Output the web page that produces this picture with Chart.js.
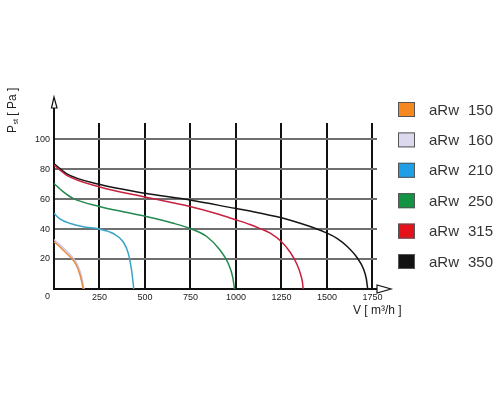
<!DOCTYPE html>
<html>
<head>
<meta charset="utf-8">
<script src="https://cdn.jsdelivr.net/npm/chart.js@4"></script>
<style>
html,body{margin:0;padding:0;background:#fff;}
#wrap{width:500px;height:400px;}
</style>
</head>
<body>
<div id="wrap"><canvas id="c" width="500" height="400"></canvas></div>
<script>
// ---- data ----
const seriesLabels = ['aRw 150', 'aRw 160', 'aRw 210', 'aRw 250', 'aRw 315', 'aRw 350'];

const flow150 = [0, 25, 50, 75, 100, 120, 140, 152, 158, 160];
const pres150 = [31.5, 29, 26, 23, 20, 16.5, 10.5, 5, 1.5, 0];

const flow160 = [0, 50, 100, 130, 150, 160, 165];
const pres160 = [33, 27.5, 21.5, 16, 9, 3, 0];

const flow210 = [0, 30, 86, 160, 248, 325, 380, 408, 426, 434, 438];
const pres210 = [50.4, 47, 43.8, 41.5, 40, 37, 31.5, 23.8, 12.7, 5, 0];

const flow250 = [0, 50, 105, 248, 380, 518, 650, 747, 839, 912, 958, 982, 992];
const pres250 = [70.4, 64.9, 60.4, 55, 51.5, 48, 44, 40.4, 35, 26, 17, 8, 0];

const flow315 = [0, 68, 248, 500, 747, 900, 995, 1077, 1133, 1188, 1250, 1298, 1335, 1357, 1366, 1369];
const pres315 = [82.7, 76, 68.2, 61.3, 55, 50, 46.3, 43, 40.3, 37.2, 31.5, 24.5, 16.5, 9, 4, 0];

const flow350 = [0, 68, 248, 500, 747, 995, 1077, 1250, 1353, 1445, 1500, 1555, 1610, 1665, 1702, 1716, 1724];
const pres350 = [83.6, 77, 69.8, 63.9, 59.3, 53.8, 52, 47.5, 43.8, 40, 37.3, 33.8, 28.5, 21, 13, 7, 0];

const xTickValues = [0, 250, 500, 750, 1000, 1250, 1500, 1750];
const xTickLabels = ['0', '250', '500', '750', '1000', '1250', '1500', '1750'];
const yTickValues = [0, 20, 40, 60, 80, 100];
const yTickLabels = ['0', '20', '40', '60', '80', '100'];

const xTitle = 'V [ m³/h ]';
const yTitleMain = 'P';
const yTitleSub = 'st';
const yTitleRest = ' [ Pa ]';

// ---- styles ----
const lineColors = ['#e48a45', '#cbc4e4', '#3aa3c8', '#24894f', '#c8203e', '#151515'];
const boxColors = ['#f5891f', '#dcd8ee', '#1f9fe6', '#129442', '#e5111b', '#141414'];

function pts(xs, ys) { return xs.map((x, i) => ({x: x, y: ys[i]})); }

const allFlows = [flow150, flow160, flow210, flow250, flow315, flow350];
const allPres = [pres150, pres160, pres210, pres250, pres315, pres350];

const datasets = seriesLabels.map((lab, i) => ({
  label: lab,
  data: pts(allFlows[i], allPres[i]),
  borderColor: lineColors[i],
  backgroundColor: boxColors[i],
  borderWidth: 1.5,
  pointRadius: 0,
  fill: false,
  cubicInterpolationMode: 'monotone'
}));

const decorPlugin = {
  id: 'decor',
  afterDraw(chart) {
    const ctx = chart.ctx;
    const ca = chart.chartArea;
    const xs = chart.scales.x, ys = chart.scales.y;
    const x0 = xs.getPixelForValue(0);
    const y0 = ys.getPixelForValue(0);
    ctx.save();
    // axis extensions with hollow arrow heads
    ctx.strokeStyle = '#111';
    ctx.lineWidth = 2;
    ctx.beginPath();
    ctx.moveTo(x0, ca.top);
    ctx.lineTo(x0, 107);
    ctx.moveTo(ca.right, y0);
    ctx.lineTo(378, y0);
    ctx.stroke();
    ctx.lineWidth = 1.2;
    ctx.fillStyle = '#fff';
    ctx.beginPath();
    ctx.moveTo(x0 - 2.5, 108);
    ctx.lineTo(x0 + 3, 108);
    ctx.lineTo(x0, 97);
    ctx.closePath();
    ctx.fill(); ctx.stroke();
    ctx.beginPath();
    ctx.moveTo(377, y0 - 4);
    ctx.lineTo(377, y0 + 4);
    ctx.lineTo(391, y0);
    ctx.closePath();
    ctx.fill(); ctx.stroke();

    // shared origin label
    ctx.fillStyle = '#222';
    ctx.font = '9px "Liberation Sans", Arial, sans-serif';
    ctx.textAlign = 'right';
    ctx.textBaseline = 'middle';
    ctx.fillText(xTickLabels[0], x0 - 4, 297);

    // x title
    ctx.font = '12px "Liberation Sans", Arial, sans-serif';
    ctx.textAlign = 'left';
    ctx.textBaseline = 'middle';
    ctx.fillStyle = '#222';
    ctx.fillText(xTitle, 353, 311);

    // y title (rotated)
    ctx.save();
    ctx.translate(13, 133);
    ctx.rotate(-Math.PI / 2);
    ctx.textAlign = 'left';
    ctx.textBaseline = 'middle';
    ctx.font = '12px "Liberation Sans", Arial, sans-serif';
    ctx.fillText(yTitleMain, 0, 0);
    let w = ctx.measureText(yTitleMain).width;
    ctx.font = '7px "Liberation Sans", Arial, sans-serif';
    ctx.fillText(yTitleSub, w + 0.5, 3);
    w += ctx.measureText(yTitleSub).width + 0.5;
    ctx.font = '12px "Liberation Sans", Arial, sans-serif';
    ctx.fillText(yTitleRest, w, 0);
    ctx.restore();

    // legend
    chart.data.datasets.forEach((ds, i) => {
      const cy = 109.5 + i * 30.4;
      ctx.fillStyle = ds.backgroundColor;
      ctx.fillRect(398, cy - 7.5, 17, 15);
      ctx.strokeStyle = '#555';
      ctx.lineWidth = 1;
      ctx.strokeRect(398.5, cy - 7, 16, 14);
      const parts = ds.label.split(' ');
      ctx.fillStyle = '#333';
      ctx.font = '15px "Liberation Sans", Arial, sans-serif';
      ctx.textAlign = 'left';
      ctx.textBaseline = 'middle';
      ctx.fillText(parts[0], 429, cy + 1);
      ctx.fillText(parts[1], 468, cy + 1);
    });
    ctx.restore();
  }
};

new Chart(document.getElementById('c'), {
  type: 'line',
  data: { datasets: datasets },
  options: {
    responsive: false,
    animation: false,
    events: [],
    layout: { padding: { left: 0, top: 123, right: 123, bottom: 0 } },
    plugins: { legend: { display: false }, tooltip: { enabled: false }, title: { display: false } },
    scales: {
      x: {
        type: 'linear',
        min: 0,
        max: 1775,
        afterBuildTicks(scale) { scale.ticks = xTickValues.map(v => ({value: v})); },
        afterFit(scale) { scale.height = 111; },
        ticks: {
          autoSkip: false,
          maxRotation: 0,
          padding: 3,
          color: '#222',
          font: { family: '"Liberation Sans", Arial, sans-serif', size: 9 },
          callback(value) { const i = xTickValues.indexOf(value); return i > 0 ? xTickLabels[i] : ''; }
        },
        grid: {
          drawTicks: false,
          color: '#111',
          lineWidth: 2
        },
        border: { display: true, color: '#111', width: 2 }
      },
      y: {
        type: 'linear',
        min: 0,
        max: 110.7,
        afterBuildTicks(scale) { scale.ticks = yTickValues.map(v => ({value: v})); },
        afterFit(scale) { scale.width = 54; },
        ticks: {
          autoSkip: false,
          padding: 4,
          color: '#222',
          font: { family: '"Liberation Sans", Arial, sans-serif', size: 9 },
          callback(value) { const i = yTickValues.indexOf(value); return i > 0 ? yTickLabels[i] : ''; }
        },
        grid: {
          drawTicks: false,
          color: (c) => c.tick && c.tick.value === 0 ? '#111' : '#6f6f6f',
          lineWidth: 2
        },
        border: { display: true, color: '#111', width: 2 }
      }
    }
  },
  plugins: [decorPlugin]
});
</script>
</body>
</html>
